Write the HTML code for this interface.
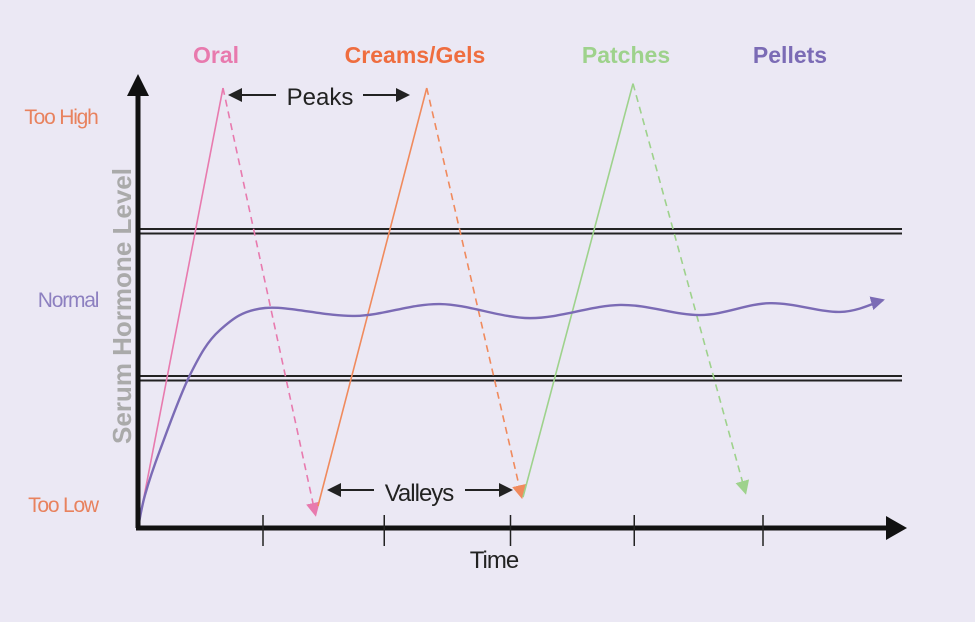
<!DOCTYPE html>
<html><head><meta charset="utf-8"><style>
html,body{margin:0;padding:0;background:#ebe8f4;}
svg{display:block;font-family:"Liberation Sans",sans-serif;}
</style></head><body>
<svg id="chart" width="975" height="622" viewBox="0 0 975 622">
<rect width="975" height="622" fill="#ebe8f4"/>
<defs>
<marker id="mPink" markerWidth="14" markerHeight="14" refX="12" refY="7" orient="auto" markerUnits="userSpaceOnUse" viewBox="0 0 14 14"><path d="M0,0 L14,7 L0,14 Z" fill="#e87aae"/></marker>
<marker id="mOrange" markerWidth="14" markerHeight="14" refX="12" refY="7" orient="auto" markerUnits="userSpaceOnUse" viewBox="0 0 14 14"><path d="M0,0 L14,7 L0,14 Z" fill="#f08a5d"/></marker>
<marker id="mGreen" markerWidth="14" markerHeight="14" refX="12" refY="7" orient="auto" markerUnits="userSpaceOnUse" viewBox="0 0 14 14"><path d="M0,0 L14,7 L0,14 Z" fill="#9ed28c"/></marker>
<marker id="mPurple" markerWidth="14" markerHeight="14" refX="12" refY="7" orient="auto" markerUnits="userSpaceOnUse" viewBox="0 0 14 14"><path d="M0,0 L14,7 L0,14 Z" fill="#7b6bb5"/></marker>
</defs>

<g>
<line x1="138" y1="229" x2="902" y2="229" stroke="#222" stroke-width="2"/>
<line x1="138" y1="233.5" x2="902" y2="233.5" stroke="#222" stroke-width="2"/>
</g>
<g>
<line x1="138" y1="376" x2="902" y2="376" stroke="#222" stroke-width="2"/>
<line x1="138" y1="380.5" x2="902" y2="380.5" stroke="#222" stroke-width="2"/>
</g>

<g id="series"></g>

<line x1="138" y1="528" x2="138" y2="92" stroke="#111" stroke-width="5"/>
<path d="M127,96 L138,74 L149,96 Z" fill="#111"/>
<line x1="136" y1="528" x2="890" y2="528" stroke="#111" stroke-width="5"/>
<path d="M886,516 L907,528 L886,540 Z" fill="#111"/>
<g id="ticks"></g>

<text x="216" y="63" text-anchor="middle" font-size="23" font-weight="bold" fill="#e87aae">Oral</text>
<text x="415" y="63" text-anchor="middle" font-size="23" font-weight="bold" fill="#ef6d3f">Creams/Gels</text>
<text x="626" y="63" text-anchor="middle" font-size="23" font-weight="bold" fill="#9ed28c">Patches</text>
<text x="790" y="63" text-anchor="middle" font-size="23" font-weight="bold" fill="#7b6bb5">Pellets</text>
<text x="61" y="124" text-anchor="middle" font-size="21" fill="#e8825e" letter-spacing="-1.2">Too High</text>
<text x="68" y="307" text-anchor="middle" font-size="21" fill="#8d80c0" letter-spacing="-1.2">Normal</text>
<text x="63" y="512" text-anchor="middle" font-size="21" fill="#e8825e" letter-spacing="-1.2">Too Low</text>
<text transform="translate(131,306) rotate(-90)" text-anchor="middle" font-size="26" font-weight="bold" fill="#aaaaaa">Serum Hormone Level</text>
<text x="494" y="568" text-anchor="middle" font-size="24" fill="#222" letter-spacing="-1">Time</text>

<g>
<text x="320" y="105" text-anchor="middle" font-size="24" fill="#222">Peaks</text>
<line x1="238" y1="95" x2="276" y2="95" stroke="#222" stroke-width="2"/>
<path d="M228,95 L242,88 L242,102 Z" fill="#222"/>
<line x1="363" y1="95" x2="400" y2="95" stroke="#222" stroke-width="2"/>
<path d="M410,95 L396,88 L396,102 Z" fill="#222"/>
</g>
<g>
<text x="419" y="501" text-anchor="middle" font-size="24" fill="#222" letter-spacing="-1">Valleys</text>
<line x1="337" y1="490" x2="374" y2="490" stroke="#222" stroke-width="2"/>
<path d="M327,490 L341,483 L341,497 Z" fill="#222"/>
<line x1="465" y1="490" x2="503" y2="490" stroke="#222" stroke-width="2"/>
<path d="M513,490 L499,483 L499,497 Z" fill="#222"/>
</g>
</svg>
<script>
const tickTimes = [1, 1.97, 2.98, 3.97, 5];
const oralTimes = [0, 0.68, 1.42];
const oralLevels = [0, 100, 3];
const creamTimes = [1.44, 2.31, 3.07];
const creamLevels = [5, 100, 7];
const patchTimes = [3.08, 3.96, 4.86];
const patchLevels = [7, 101, 8];
const pelletTimes = [0, 0.056, 0.176, 0.416, 0.656, 1.016, 1.736, 2.416, 3.136, 3.856, 4.496, 5.056, 5.616, 5.96];
const pelletLevels = [0, 7.5, 17.7, 34.8, 45, 50, 48.2, 50.9, 47.7, 50.7, 48.4, 51.1, 49.1, 51.8];

const X0 = 138, XS = 125, Y0 = 528, YS = 4.4;
function xs(t){ return X0 + t * XS; }
function ys(v){ return Y0 - v * YS; }
const NS = "http://www.w3.org/2000/svg";
const g = document.getElementById('series');

function line(x1,y1,x2,y2,color,dash,marker,name){
  const l = document.createElementNS(NS,'line');
  l.setAttribute('x1',x1); l.setAttribute('y1',y1);
  l.setAttribute('x2',x2); l.setAttribute('y2',y2);
  l.setAttribute('stroke',color); l.setAttribute('stroke-width','1.6');
  if (dash) l.setAttribute('stroke-dasharray','7,5');
  if (marker) l.setAttribute('marker-end','url(#'+marker+')');
  
  
  g.appendChild(l);
}
function spike(times, levels, color, marker, prefix){
  line(xs(times[0]), ys(levels[0]), xs(times[1]), ys(levels[1]), color, false, null, prefix);
  line(xs(times[1]), ys(levels[1]), xs(times[2]), ys(levels[2]), color, true, marker, prefix);
}
spike(oralTimes, oralLevels, '#e87aae', 'mPink', 'oral-series');
spike(creamTimes, creamLevels, '#f08a5d', 'mOrange', 'creams-series');
spike(patchTimes, patchLevels, '#9ed28c', 'mGreen', 'patches-series');

const pts = pelletTimes.map((t,i)=>[xs(t), ys(pelletLevels[i])]);
let d = 'M' + pts[0][0] + ',' + pts[0][1];
for (let i=0;i<pts.length-1;i++){
  const p0 = pts[Math.max(0,i-1)], p1 = pts[i], p2 = pts[i+1], p3 = pts[Math.min(pts.length-1,i+2)];
  const c1x = p1[0] + (p2[0]-p0[0])/6, c1y = p1[1] + (p2[1]-p0[1])/6;
  const c2x = p2[0] - (p3[0]-p1[0])/6, c2y = p2[1] - (p3[1]-p1[1])/6;
  d += ' C' + c1x + ',' + c1y + ' ' + c2x + ',' + c2y + ' ' + p2[0] + ',' + p2[1];
}
const pel = document.createElementNS(NS,'path');
pel.setAttribute('d', d);
pel.setAttribute('fill','none');
pel.setAttribute('stroke','#7b6bb5');
pel.setAttribute('stroke-width','2.4');
pel.setAttribute('marker-end','url(#mPurple)');


g.appendChild(pel);

const tg = document.getElementById('ticks');
tickTimes.forEach(t=>{
  const l = document.createElementNS(NS,'line');
  l.setAttribute('x1', xs(t)); l.setAttribute('x2', xs(t));
  l.setAttribute('y1', 515); l.setAttribute('y2', 546);
  l.setAttribute('stroke','#222'); l.setAttribute('stroke-width','1.5');
  
  
  tg.appendChild(l);
});
</script>
</body></html>
